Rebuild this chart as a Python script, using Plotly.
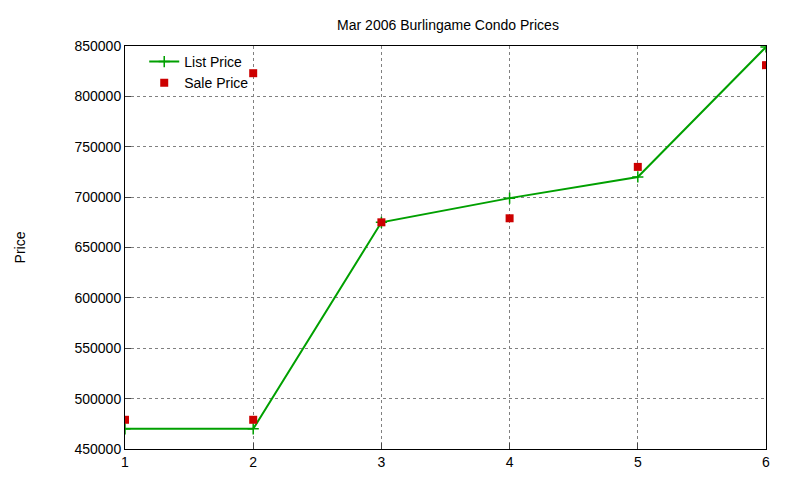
import plotly.graph_objects as go

list_x = [1, 2, 3, 4, 5, 6]
list_price = [470000, 470000, 675000, 699000, 720000, 849000]
sale_x = [1, 2, 2, 3, 4, 5, 6]
sale_price = [479000, 479000, 823000, 675000, 679000, 730000, 831000]

fig = go.Figure()
fig.add_trace(go.Scatter(x=list_x, y=list_price, mode="lines+markers", name="List Price",
                         line=dict(color="#00a000", width=2),
                         marker=dict(symbol="cross-thin", size=8, line=dict(color="#00a000", width=1.5))))
fig.add_trace(go.Scatter(x=sale_x, y=sale_price, mode="markers", name="Sale Price",
                         marker=dict(symbol="square", size=8, color="#cc0000")))

ax = dict(showline=True, linecolor="black", mirror=True, ticks="inside", ticklen=6,
          showgrid=True, gridcolor="#808080", griddash="dot", gridwidth=1, zeroline=False,
          tickfont=dict(size=14, color="black"))
fig.update_layout(
    width=800, height=480, plot_bgcolor="white", paper_bgcolor="white",
    font=dict(family="Liberation Sans, Arial", color="black"),
    title=dict(text="Mar 2006 Burlingame Condo Prices", x=0.55, y=0.975, xanchor="center",
               font=dict(size=14)),
    margin=dict(l=111, r=42, t=38, b=39),
    xaxis=dict(range=[1, 6], dtick=1, **ax),
    yaxis=dict(range=[450000, 850000], dtick=50000, tickformat="d",
               title=dict(text="Price", font=dict(size=14), standoff=45), **ax),
    legend=dict(x=0.03, y=1.0, xanchor="left", yanchor="top", bgcolor="rgba(0,0,0,0)",
                font=dict(size=14), tracegroupgap=0),
    showlegend=True,
)
fig.write_html("out.html")
